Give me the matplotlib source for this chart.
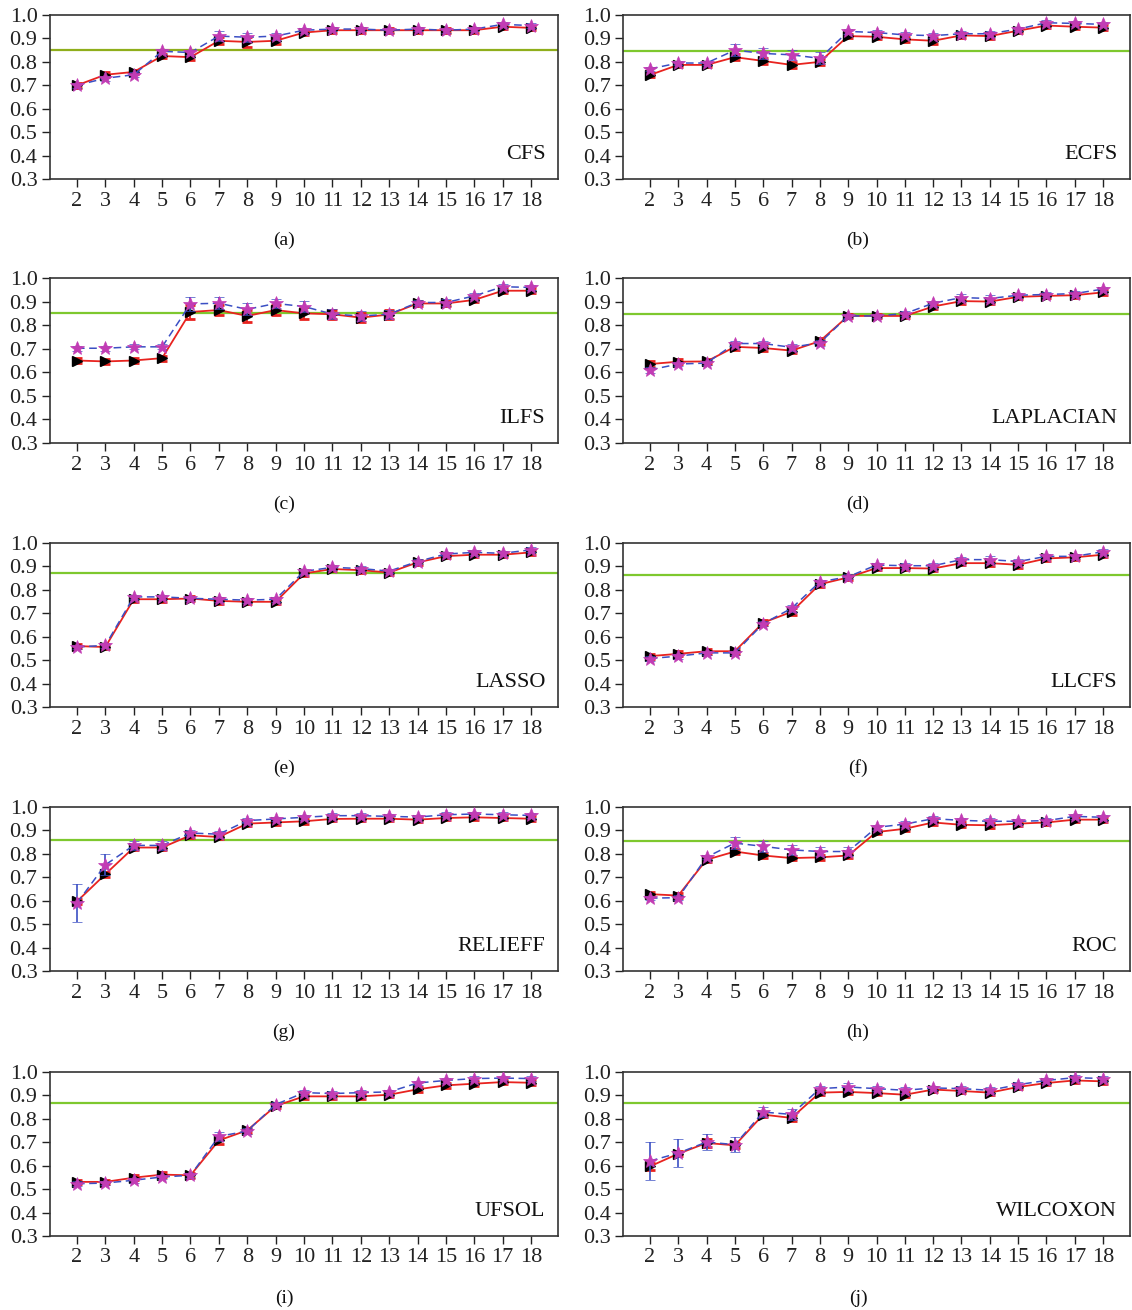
import matplotlib
matplotlib.use("Agg")
import matplotlib.pyplot as plt
import numpy as np

plt.rcParams['font.family'] = ['Liberation Serif', 'DejaVu Serif']

x_values = list(range(2, 19))
panel_names = ["CFS", "ECFS", "ILFS", "LAPLACIAN", "LASSO", "LLCFS", "RELIEFF", "ROC", "UFSOL", "WILCOXON"]
panel_letters = ["(a)", "(b)", "(c)", "(d)", "(e)", "(f)", "(g)", "(h)", "(i)", "(j)"]
baselines = [0.851, 0.846, 0.853, 0.849, 0.871, 0.862, 0.858, 0.857, 0.868, 0.867]

cfs_red = [0.700, 0.745, 0.757, 0.825, 0.820, 0.890, 0.885, 0.890, 0.925, 0.935, 0.935, 0.935, 0.935, 0.935, 0.935, 0.950, 0.945]
cfs_blue = [0.700, 0.730, 0.745, 0.845, 0.840, 0.910, 0.905, 0.910, 0.935, 0.940, 0.940, 0.935, 0.940, 0.935, 0.940, 0.960, 0.955]
cfs_red_err = [0.01, 0.01, 0.01, 0.01, 0.01, 0.015, 0.02, 0.015, 0.01, 0.01, 0.01, 0.01, 0.01, 0.01, 0.01, 0.01, 0.01]
cfs_blue_err = [0.01, 0.01, 0.01, 0.01, 0.01, 0.02, 0.02, 0.015, 0.01, 0.01, 0.01, 0.01, 0.01, 0.01, 0.01, 0.01, 0.01]

ecfs_red = [0.744, 0.787, 0.787, 0.820, 0.804, 0.787, 0.800, 0.910, 0.907, 0.896, 0.890, 0.913, 0.910, 0.933, 0.955, 0.950, 0.946]
ecfs_blue = [0.770, 0.795, 0.795, 0.850, 0.836, 0.830, 0.815, 0.930, 0.925, 0.915, 0.912, 0.920, 0.920, 0.940, 0.967, 0.964, 0.960]
ecfs_red_err = [0.01, 0.01, 0.01, 0.012, 0.012, 0.012, 0.012, 0.01, 0.01, 0.012, 0.012, 0.01, 0.012, 0.01, 0.01, 0.01, 0.01]
ecfs_blue_err = [0.01, 0.01, 0.01, 0.025, 0.025, 0.02, 0.025, 0.01, 0.012, 0.012, 0.012, 0.01, 0.012, 0.01, 0.01, 0.01, 0.01]

ilfs_red = [0.650, 0.646, 0.650, 0.660, 0.856, 0.864, 0.839, 0.864, 0.850, 0.846, 0.832, 0.845, 0.892, 0.892, 0.907, 0.946, 0.946]
ilfs_blue = [0.702, 0.702, 0.708, 0.708, 0.890, 0.893, 0.867, 0.892, 0.879, 0.847, 0.839, 0.846, 0.896, 0.896, 0.924, 0.963, 0.960]
ilfs_red_err = [0.01, 0.01, 0.01, 0.01, 0.03, 0.02, 0.025, 0.02, 0.025, 0.02, 0.02, 0.02, 0.01, 0.01, 0.01, 0.01, 0.01]
ilfs_blue_err = [0.01, 0.01, 0.01, 0.01, 0.03, 0.025, 0.025, 0.02, 0.025, 0.02, 0.02, 0.02, 0.012, 0.015, 0.012, 0.01, 0.01]

lap_red = [0.635, 0.645, 0.646, 0.708, 0.703, 0.692, 0.732, 0.839, 0.839, 0.839, 0.879, 0.902, 0.900, 0.920, 0.924, 0.927, 0.939]
lap_blue = [0.610, 0.635, 0.639, 0.722, 0.722, 0.706, 0.725, 0.839, 0.839, 0.849, 0.893, 0.917, 0.913, 0.927, 0.930, 0.934, 0.953]
lap_red_err = [0.012, 0.01, 0.01, 0.012, 0.012, 0.012, 0.012, 0.01, 0.01, 0.01, 0.01, 0.012, 0.01, 0.01, 0.01, 0.01, 0.01]
lap_blue_err = [0.012, 0.01, 0.01, 0.012, 0.012, 0.015, 0.012, 0.01, 0.01, 0.01, 0.01, 0.015, 0.015, 0.01, 0.01, 0.01, 0.01]

lasso_red = [0.560, 0.556, 0.760, 0.760, 0.763, 0.753, 0.749, 0.749, 0.870, 0.889, 0.884, 0.874, 0.917, 0.944, 0.950, 0.950, 0.960]
lasso_blue = [0.556, 0.563, 0.770, 0.770, 0.764, 0.760, 0.756, 0.760, 0.879, 0.896, 0.891, 0.880, 0.921, 0.953, 0.960, 0.956, 0.971]
lasso_red_err = [0.01, 0.01, 0.01, 0.01, 0.01, 0.012, 0.01, 0.01, 0.01, 0.01, 0.01, 0.01, 0.01, 0.01, 0.01, 0.01, 0.01]
lasso_blue_err = [0.01, 0.01, 0.01, 0.01, 0.01, 0.01, 0.01, 0.01, 0.01, 0.01, 0.01, 0.01, 0.01, 0.01, 0.01, 0.01, 0.01]

llcfs_red = [0.517, 0.527, 0.538, 0.538, 0.660, 0.706, 0.824, 0.853, 0.893, 0.893, 0.891, 0.914, 0.914, 0.907, 0.934, 0.939, 0.950]
llcfs_blue = [0.507, 0.517, 0.531, 0.531, 0.656, 0.721, 0.834, 0.856, 0.906, 0.903, 0.903, 0.929, 0.929, 0.921, 0.943, 0.943, 0.963]
llcfs_red_err = [0.01, 0.01, 0.01, 0.01, 0.01, 0.015, 0.01, 0.01, 0.01, 0.01, 0.01, 0.01, 0.012, 0.012, 0.01, 0.01, 0.01]
llcfs_blue_err = [0.01, 0.01, 0.01, 0.01, 0.01, 0.015, 0.01, 0.01, 0.01, 0.01, 0.01, 0.01, 0.015, 0.012, 0.01, 0.01, 0.01]

relief_red = [0.597, 0.713, 0.827, 0.827, 0.879, 0.872, 0.929, 0.934, 0.939, 0.949, 0.950, 0.950, 0.946, 0.953, 0.956, 0.953, 0.950]
relief_blue = [0.590, 0.753, 0.836, 0.836, 0.889, 0.884, 0.942, 0.949, 0.956, 0.963, 0.963, 0.960, 0.957, 0.967, 0.970, 0.967, 0.964]
relief_red_err = [0.012, 0.01, 0.01, 0.01, 0.01, 0.01, 0.01, 0.01, 0.01, 0.01, 0.01, 0.01, 0.01, 0.01, 0.01, 0.01, 0.01]
relief_blue_err = [0.080, 0.045, 0.02, 0.02, 0.012, 0.015, 0.012, 0.01, 0.01, 0.01, 0.01, 0.01, 0.01, 0.01, 0.01, 0.01, 0.01]

roc_red = [0.628, 0.622, 0.775, 0.810, 0.793, 0.782, 0.785, 0.793, 0.893, 0.907, 0.934, 0.924, 0.922, 0.929, 0.934, 0.946, 0.946]
roc_blue = [0.611, 0.613, 0.786, 0.846, 0.832, 0.817, 0.810, 0.810, 0.913, 0.927, 0.950, 0.943, 0.939, 0.939, 0.942, 0.960, 0.956]
roc_red_err = [0.01, 0.01, 0.01, 0.012, 0.012, 0.01, 0.01, 0.01, 0.01, 0.01, 0.01, 0.01, 0.01, 0.01, 0.01, 0.01, 0.01]
roc_blue_err = [0.01, 0.01, 0.01, 0.025, 0.025, 0.02, 0.02, 0.02, 0.012, 0.012, 0.01, 0.01, 0.012, 0.01, 0.012, 0.01, 0.01]

ufsol_red = [0.531, 0.531, 0.549, 0.562, 0.559, 0.708, 0.751, 0.855, 0.896, 0.896, 0.896, 0.903, 0.926, 0.943, 0.950, 0.957, 0.954]
ufsol_blue = [0.523, 0.526, 0.538, 0.552, 0.559, 0.725, 0.748, 0.861, 0.912, 0.908, 0.912, 0.915, 0.953, 0.964, 0.972, 0.974, 0.972]
ufsol_red_err = [0.01, 0.01, 0.01, 0.012, 0.01, 0.015, 0.01, 0.01, 0.01, 0.01, 0.01, 0.01, 0.01, 0.01, 0.01, 0.01, 0.01]
ufsol_blue_err = [0.01, 0.01, 0.01, 0.01, 0.01, 0.02, 0.012, 0.01, 0.01, 0.01, 0.01, 0.01, 0.01, 0.01, 0.01, 0.01, 0.01]

wil_red = [0.597, 0.651, 0.697, 0.687, 0.818, 0.804, 0.912, 0.915, 0.910, 0.903, 0.925, 0.919, 0.912, 0.936, 0.953, 0.964, 0.960]
wil_blue = [0.620, 0.654, 0.701, 0.690, 0.829, 0.819, 0.929, 0.936, 0.929, 0.922, 0.932, 0.929, 0.922, 0.946, 0.964, 0.976, 0.972]
wil_red_err = [0.015, 0.01, 0.015, 0.012, 0.01, 0.012, 0.01, 0.01, 0.01, 0.01, 0.01, 0.01, 0.01, 0.01, 0.01, 0.01, 0.01]
wil_blue_err = [0.083, 0.058, 0.035, 0.033, 0.02, 0.025, 0.012, 0.015, 0.012, 0.012, 0.01, 0.01, 0.012, 0.01, 0.01, 0.01, 0.01]

red_series = [cfs_red, ecfs_red, ilfs_red, lap_red, lasso_red, llcfs_red, relief_red, roc_red, ufsol_red, wil_red]
blue_series = [cfs_blue, ecfs_blue, ilfs_blue, lap_blue, lasso_blue, llcfs_blue, relief_blue, roc_blue, ufsol_blue, wil_blue]
red_errs = [cfs_red_err, ecfs_red_err, ilfs_red_err, lap_red_err, lasso_red_err, llcfs_red_err, relief_red_err, roc_red_err, ufsol_red_err, wil_red_err]
blue_errs = [cfs_blue_err, ecfs_blue_err, ilfs_blue_err, lap_blue_err, lasso_blue_err, llcfs_blue_err, relief_blue_err, roc_blue_err, ufsol_blue_err, wil_blue_err]

W, H = 1132, 1310
fig = plt.figure(figsize=(W / 100, H / 100), dpi=100)

col_px = [(50, 558), (623, 1130)]
row_px = [(15, 179), (278, 443), (543, 707), (807, 971), (1072, 1236)]
label_y_px = [240, 504, 768, 1032, 1298]
label_x_px = [284, 858]

red_color = '#e8231f'
blue_color = '#3b4fc4'
star_color = '#c23cb4'

for i in range(10):
    r, c = divmod(i, 2)
    x0, x1 = col_px[c]
    y0, y1 = row_px[r]
    ax = fig.add_axes([x0 / W, 1 - y1 / H, (x1 - x0) / W, (y1 - y0) / H])
    gcol = '#8fae1b' if i == 0 else '#7ec82e'
    ax.axhline(baselines[i], color=gcol, lw=1.6, zorder=1)
    ax.errorbar(x_values, red_series[i], yerr=red_errs[i], color=red_color, lw=1.3,
                ls='-', marker='>', markersize=6.5, markerfacecolor='black', markeredgecolor='black',
                ecolor=red_color, elinewidth=1.3, capsize=3.5, capthick=2.0, zorder=3)
    ax.errorbar(x_values, blue_series[i], yerr=blue_errs[i], color=blue_color, lw=1.1,
                ls=(0, (5, 3)), marker='*', markersize=10, markerfacecolor=star_color,
                markeredgecolor=star_color, markeredgewidth=0.5,
                ecolor=blue_color, elinewidth=1.2, capsize=3.5, capthick=2.0, zorder=4)
    ax.set_xlim(1.05, 18.95)
    ax.set_ylim(0.3, 1.0)
    ax.set_xticks(x_values)
    ax.set_xticklabels([str(v) for v in x_values])
    ax.set_yticks(np.arange(0.3, 1.01, 0.1))
    ax.set_yticklabels([f"{v:.1f}" for v in np.arange(0.3, 1.01, 0.1)])
    ax.tick_params(axis='both', direction='out', length=6, width=1.0, labelsize=16,
                   colors='#222222', pad=3)
    for s in ax.spines.values():
        s.set_color('#333333')
        s.set_linewidth(1.2)
    ax.text(0.975, 0.09, panel_names[i], transform=ax.transAxes, ha='right', va='bottom',
            fontsize=16, color='#111111')
    fig.text(label_x_px[c] / W, 1 - label_y_px[r] / H, panel_letters[i], ha='center', va='center',
             fontsize=14, color='#111111')

fig.savefig('out.png', dpi=100)
